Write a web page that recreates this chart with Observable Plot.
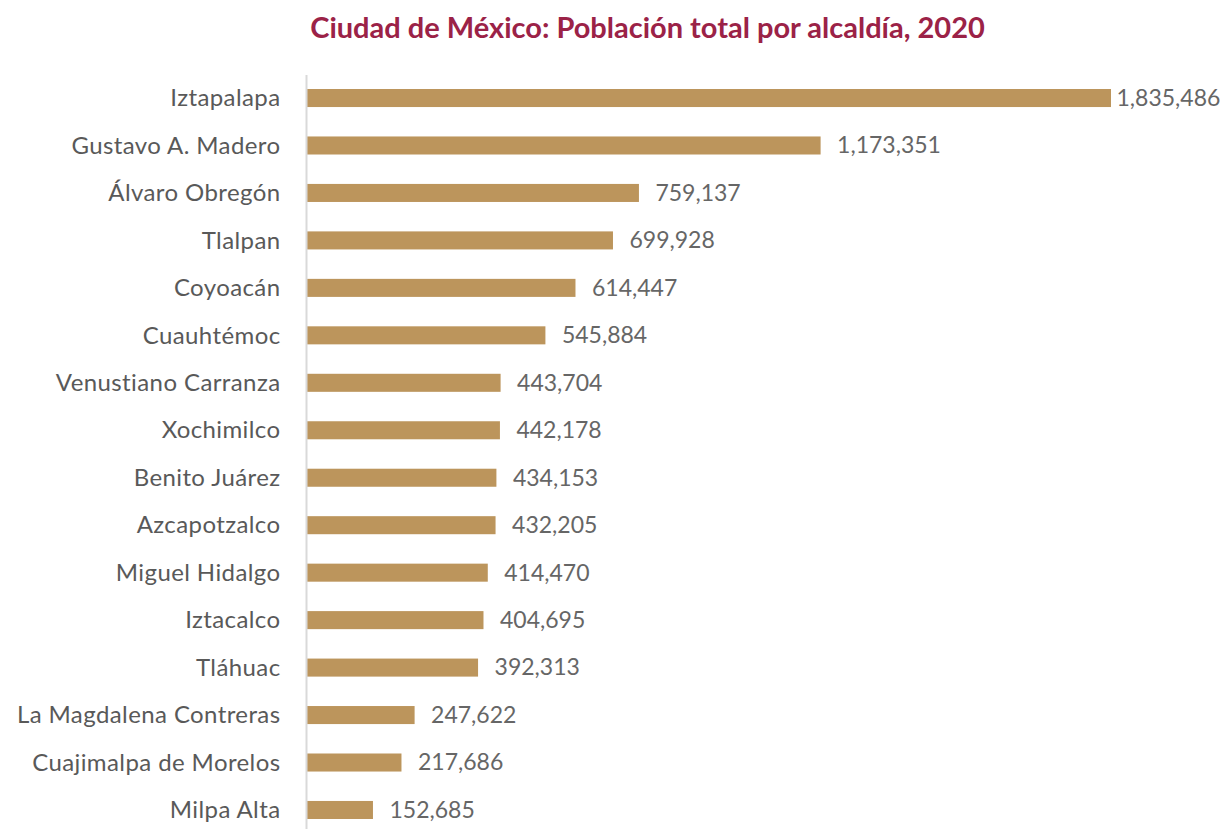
<!DOCTYPE html>
<html>
<head>
<meta charset="utf-8">
<script src="https://cdn.jsdelivr.net/npm/d3@7"></script>
<script src="https://cdn.jsdelivr.net/npm/@observablehq/plot@0.6"></script>
<style>
  html, body { margin: 0; padding: 0; background: #fff; overflow: hidden; }
  #title { height: 60px; line-height: 54px; text-align: center; font-family: Lato, sans-serif; font-weight: 700; font-size: 29px; color: #9b2247; padding-left: 72px; }
  #chart svg { display: block; }
  #chart svg g[aria-label="y-axis tick label"] text { letter-spacing: 0.4px; }
</style>
</head>
<body>
<div id="title">Ciudad de México: Población total por alcaldía, 2020</div>
<div id="chart"></div>
<script>
const alcaldias = ["Iztapalapa", "Gustavo A. Madero", "Álvaro Obregón", "Tlalpan", "Coyoacán", "Cuauhtémoc", "Venustiano Carranza", "Xochimilco", "Benito Juárez", "Azcapotzalco", "Miguel Hidalgo", "Iztacalco", "Tláhuac", "La Magdalena Contreras", "Cuajimalpa de Morelos", "Milpa Alta"];
const poblacion = [1835486, 1173351, 759137, 699928, 614447, 545884, 443704, 442178, 434153, 432205, 414470, 404695, 392313, 247622, 217686, 152685];

const data = alcaldias.map((name, i) => ({name, value: poblacion[i]}));
const fmt = d3.format(",");
const maxVal = d3.max(poblacion);

const chart = Plot.plot({
  width: 1223,
  height: 769,
  marginLeft: 306,
  marginRight: 112,
  marginTop: 15,
  marginBottom: 0,
  style: {fontFamily: "Lato, sans-serif", fontSize: "23px", background: "#fff"},
  x: {domain: [0, maxVal], axis: null},
  y: {domain: alcaldias, range: [15, 773], round: false, paddingInner: 0.62, paddingOuter: 0.295, label: null},
  marks: [
    Plot.barX(data, {x: "value", y: "name", fill: "#bc955c"}),
    Plot.ruleX([0], {stroke: "#d9d9d9", strokeWidth: 2}),
    Plot.text(data.filter(d => d.value === maxVal), {x: "value", y: "name", text: d => fmt(d.value), textAnchor: "start", dx: 5, fill: "#666666", fontSize: 23}),
    Plot.text(data.filter(d => d.value !== maxVal), {x: "value", y: "name", text: d => fmt(d.value), textAnchor: "start", dx: 16, fill: "#666666", fontSize: 23}),
    Plot.axisY({tickSize: 0, tickPadding: 26, fontSize: 24, color: "#595959", label: null})
  ]
});
document.getElementById("chart").appendChild(chart);
</script>
</body>
</html>
